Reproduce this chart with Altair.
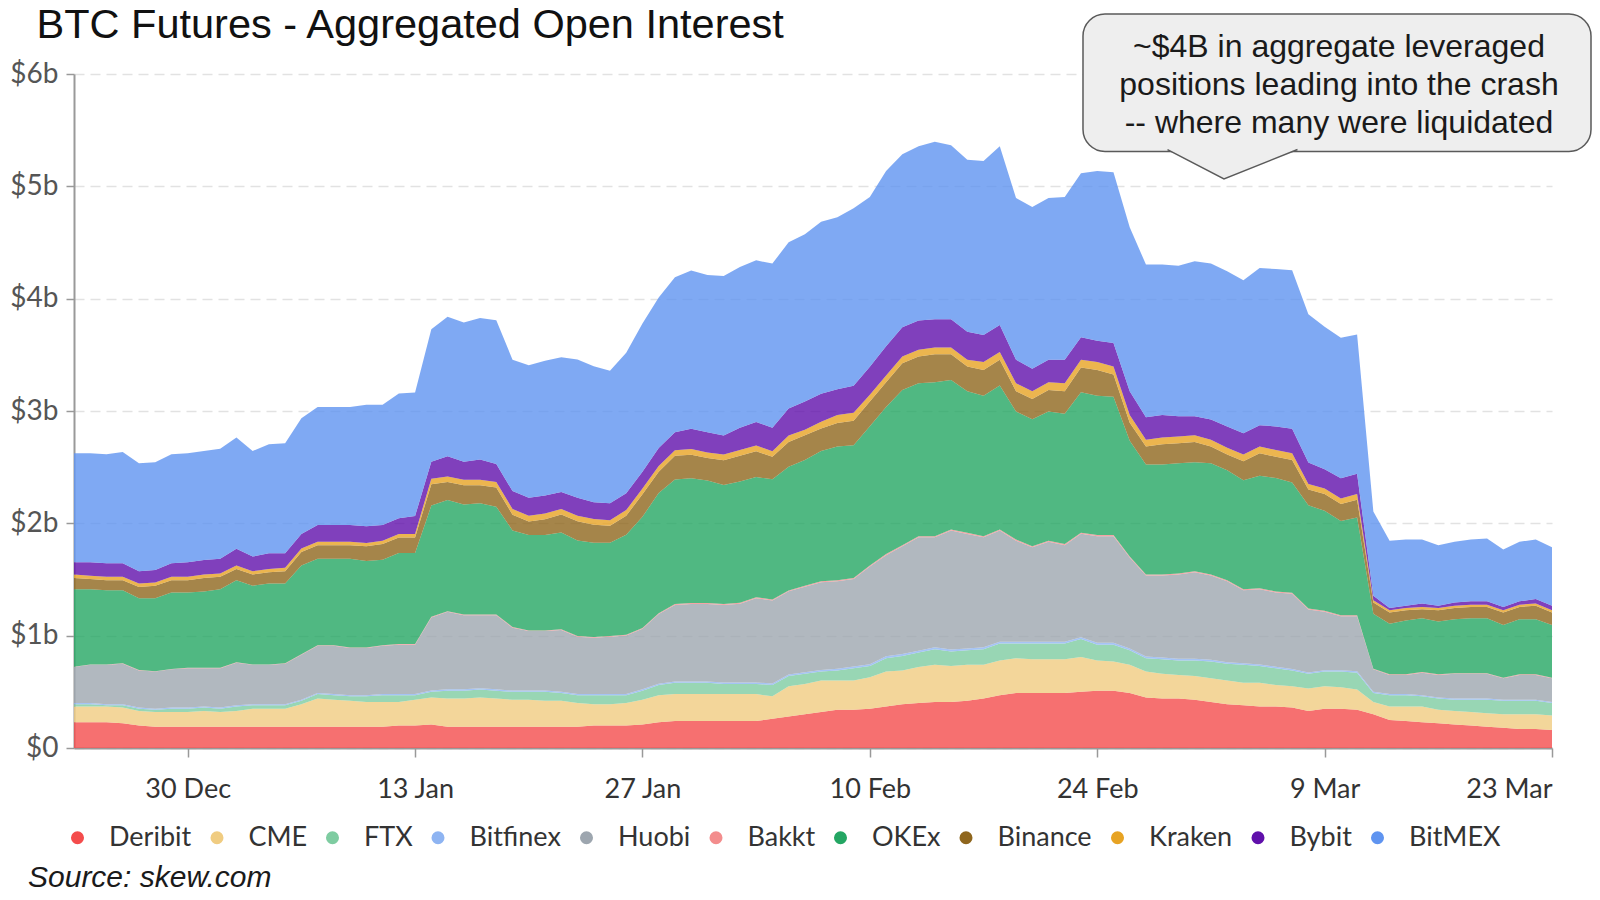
import altair as alt
import pandas as pd

start_date = "2019-12-23"
end_date = "2020-03-23"
dates = pd.date_range(start_date, end_date, freq="D").strftime("%Y-%m-%d").tolist()

exchanges = ["Deribit", "CME", "FTX", "Bitfinex", "Huobi", "Bakkt", "OKEx",
             "Binance", "Kraken", "Bybit", "BitMEX"]
colors = ["#f44c4c", "#f0cc81", "#7ecca1", "#8eb4f2", "#9da6af", "#f38d8d",
          "#24a663", "#8f661d", "#e7a323", "#6010ab", "#5f94f0"]

# open interest, $ billions, one value per day 23 Dec 2019 .. 23 Mar 2020
deribit = [0.23, 0.23, 0.23, 0.22, 0.20, 0.19, 0.19, 0.19, 0.19, 0.19,
           0.19, 0.19, 0.19, 0.19, 0.19, 0.19, 0.19, 0.19, 0.19, 0.19,
           0.20, 0.20, 0.21, 0.19, 0.19, 0.19, 0.19, 0.19, 0.19, 0.19,
           0.19, 0.19, 0.20, 0.20, 0.20, 0.21, 0.23, 0.24, 0.24, 0.24,
           0.24, 0.24, 0.24, 0.26, 0.28, 0.30, 0.32, 0.34, 0.34, 0.35,
           0.37, 0.39, 0.40, 0.41, 0.41, 0.42, 0.44, 0.47, 0.49, 0.49,
           0.49, 0.49, 0.50, 0.51, 0.51, 0.49, 0.45, 0.44, 0.44, 0.43,
           0.41, 0.39, 0.38, 0.37, 0.37, 0.36, 0.33, 0.35, 0.35, 0.34,
           0.30, 0.25, 0.24, 0.23, 0.22, 0.21, 0.20, 0.19, 0.18, 0.17,
           0.17, 0.16]
cme = [0.14, 0.14, 0.14, 0.14, 0.13, 0.13, 0.13, 0.13, 0.14, 0.13,
       0.14, 0.16, 0.16, 0.16, 0.20, 0.25, 0.24, 0.23, 0.22, 0.22,
       0.21, 0.23, 0.24, 0.25, 0.25, 0.26, 0.25, 0.24, 0.24, 0.23,
       0.23, 0.21, 0.19, 0.19, 0.20, 0.22, 0.24, 0.24, 0.24, 0.24,
       0.24, 0.24, 0.24, 0.20, 0.27, 0.27, 0.28, 0.26, 0.26, 0.28,
       0.31, 0.30, 0.32, 0.33, 0.32, 0.32, 0.30, 0.31, 0.31, 0.30,
       0.30, 0.30, 0.31, 0.27, 0.26, 0.25, 0.23, 0.22, 0.21, 0.21,
       0.21, 0.21, 0.20, 0.21, 0.19, 0.19, 0.20, 0.20, 0.19, 0.18,
       0.11, 0.12, 0.13, 0.14, 0.12, 0.12, 0.12, 0.12, 0.12, 0.13,
       0.13, 0.13]
ftx = [0.02, 0.02, 0.01, 0.02, 0.02, 0.02, 0.03, 0.03, 0.03, 0.03,
       0.04, 0.03, 0.03, 0.03, 0.03, 0.04, 0.04, 0.04, 0.05, 0.06,
       0.06, 0.04, 0.05, 0.07, 0.07, 0.07, 0.07, 0.07, 0.07, 0.08,
       0.07, 0.07, 0.08, 0.08, 0.07, 0.08, 0.09, 0.10, 0.10, 0.10,
       0.09, 0.09, 0.09, 0.10, 0.09, 0.09, 0.08, 0.09, 0.11, 0.10,
       0.12, 0.13, 0.13, 0.14, 0.13, 0.13, 0.14, 0.15, 0.13, 0.14,
       0.14, 0.14, 0.16, 0.14, 0.15, 0.13, 0.12, 0.13, 0.13, 0.14,
       0.15, 0.15, 0.16, 0.15, 0.15, 0.14, 0.13, 0.13, 0.14, 0.15,
       0.08, 0.10, 0.10, 0.09, 0.10, 0.10, 0.11, 0.12, 0.12, 0.12,
       0.12, 0.11]
bitfinex = [0.010, 0.010, 0.010, 0.010, 0.010, 0.010, 0.010, 0.010, 0.010, 0.010,
            0.010, 0.010, 0.010, 0.010, 0.010, 0.010, 0.010, 0.010, 0.010, 0.010,
            0.010, 0.010, 0.012, 0.012, 0.012, 0.012, 0.012, 0.011, 0.011, 0.011,
            0.011, 0.011, 0.011, 0.011, 0.011, 0.012, 0.012, 0.013, 0.013, 0.013,
            0.014, 0.014, 0.014, 0.014, 0.015, 0.015, 0.015, 0.015, 0.015, 0.015,
            0.016, 0.016, 0.016, 0.016, 0.016, 0.016, 0.016, 0.016, 0.016, 0.016,
            0.016, 0.016, 0.017, 0.016, 0.016, 0.015, 0.015, 0.015, 0.015, 0.015,
            0.015, 0.014, 0.014, 0.014, 0.014, 0.014, 0.013, 0.013, 0.013, 0.013,
            0.010, 0.010, 0.010, 0.010, 0.010, 0.010, 0.010, 0.010, 0.010, 0.010,
            0.010, 0.010]
huobi = [0.32, 0.34, 0.35, 0.36, 0.33, 0.33, 0.34, 0.35, 0.34, 0.35,
         0.38, 0.35, 0.35, 0.36, 0.40, 0.42, 0.43, 0.42, 0.42, 0.43,
         0.44, 0.44, 0.65, 0.69, 0.66, 0.65, 0.66, 0.56, 0.53, 0.53,
         0.55, 0.51, 0.50, 0.51, 0.52, 0.54, 0.62, 0.68, 0.69, 0.69,
         0.69, 0.70, 0.75, 0.74, 0.74, 0.76, 0.78, 0.78, 0.78, 0.87,
         0.90, 0.96, 1.01, 0.98, 1.06, 1.02, 0.98, 0.99, 0.90, 0.84,
         0.89, 0.86, 0.92, 0.95, 0.95, 0.81, 0.72, 0.73, 0.75, 0.77,
         0.75, 0.72, 0.65, 0.67, 0.66, 0.67, 0.56, 0.52, 0.48, 0.49,
         0.20, 0.17, 0.17, 0.20, 0.20, 0.22, 0.22, 0.22, 0.19, 0.22,
         0.22, 0.21]
bakkt = [0.004, 0.004, 0.004, 0.004, 0.004, 0.004, 0.004, 0.004, 0.004, 0.004,
         0.004, 0.004, 0.004, 0.004, 0.005, 0.005, 0.005, 0.005, 0.005, 0.005,
         0.005, 0.005, 0.006, 0.006, 0.006, 0.006, 0.006, 0.006, 0.006, 0.006,
         0.007, 0.007, 0.007, 0.007, 0.007, 0.007, 0.008, 0.008, 0.008, 0.008,
         0.008, 0.008, 0.008, 0.008, 0.008, 0.009, 0.009, 0.009, 0.009, 0.009,
         0.010, 0.010, 0.010, 0.010, 0.010, 0.010, 0.010, 0.010, 0.010, 0.010,
         0.010, 0.010, 0.010, 0.010, 0.010, 0.010, 0.009, 0.009, 0.009, 0.009,
         0.009, 0.009, 0.009, 0.009, 0.009, 0.009, 0.008, 0.008, 0.008, 0.008,
         0.006, 0.006, 0.006, 0.006, 0.006, 0.006, 0.006, 0.006, 0.006, 0.006,
         0.006, 0.006]
okex = [0.69, 0.67, 0.66, 0.65, 0.64, 0.65, 0.68, 0.67, 0.68, 0.70,
        0.73, 0.70, 0.72, 0.71, 0.79, 0.77, 0.77, 0.79, 0.77, 0.76,
        0.81, 0.81, 0.99, 0.99, 0.98, 0.99, 0.96, 0.86, 0.85, 0.85,
        0.86, 0.85, 0.84, 0.83, 0.89, 0.99, 1.07, 1.11, 1.11, 1.09,
        1.06, 1.08, 1.07, 1.07, 1.10, 1.12, 1.16, 1.19, 1.18, 1.24,
        1.31, 1.38, 1.36, 1.37, 1.33, 1.26, 1.25, 1.28, 1.14, 1.13,
        1.15, 1.16, 1.25, 1.24, 1.23, 1.03, 0.98, 0.98, 0.98, 0.97,
        0.99, 0.98, 0.97, 1.00, 1.01, 0.98, 0.92, 0.89, 0.84, 0.87,
        0.49, 0.45, 0.48, 0.48, 0.47, 0.48, 0.49, 0.49, 0.47, 0.49,
        0.49, 0.47]
binance = [0.10, 0.09, 0.09, 0.09, 0.10, 0.11, 0.11, 0.11, 0.12, 0.11,
           0.10, 0.10, 0.10, 0.11, 0.12, 0.12, 0.12, 0.12, 0.13, 0.14,
           0.14, 0.14, 0.19, 0.16, 0.17, 0.16, 0.17, 0.14, 0.12, 0.14,
           0.16, 0.17, 0.16, 0.15, 0.17, 0.20, 0.19, 0.21, 0.21, 0.20,
           0.22, 0.23, 0.23, 0.20, 0.22, 0.22, 0.20, 0.21, 0.22, 0.22,
           0.22, 0.24, 0.24, 0.25, 0.23, 0.22, 0.23, 0.23, 0.18, 0.18,
           0.19, 0.20, 0.22, 0.23, 0.20, 0.16, 0.16, 0.18, 0.18, 0.18,
           0.15, 0.14, 0.17, 0.20, 0.19, 0.20, 0.14, 0.15, 0.15, 0.16,
           0.10, 0.10, 0.09, 0.08, 0.10, 0.10, 0.10, 0.10, 0.11, 0.11,
           0.12, 0.11]
kraken = [0.03, 0.03, 0.03, 0.03, 0.03, 0.03, 0.03, 0.03, 0.03, 0.03,
          0.03, 0.03, 0.03, 0.03, 0.03, 0.03, 0.03, 0.03, 0.03, 0.03,
          0.03, 0.03, 0.05, 0.05, 0.05, 0.05, 0.05, 0.05, 0.05, 0.05,
          0.05, 0.05, 0.05, 0.05, 0.05, 0.05, 0.05, 0.05, 0.05, 0.05,
          0.05, 0.05, 0.05, 0.05, 0.06, 0.05, 0.06, 0.07, 0.07, 0.06,
          0.06, 0.06, 0.06, 0.06, 0.06, 0.06, 0.07, 0.07, 0.07, 0.07,
          0.07, 0.07, 0.07, 0.07, 0.07, 0.07, 0.06, 0.06, 0.06, 0.06,
          0.06, 0.06, 0.06, 0.06, 0.06, 0.06, 0.05, 0.05, 0.05, 0.05,
          0.02, 0.02, 0.02, 0.02, 0.02, 0.02, 0.02, 0.02, 0.02, 0.02,
          0.02, 0.02]
bybit = [0.11, 0.12, 0.12, 0.12, 0.11, 0.11, 0.12, 0.13, 0.13, 0.13,
         0.15, 0.13, 0.14, 0.13, 0.13, 0.15, 0.15, 0.15, 0.15, 0.14,
         0.14, 0.16, 0.15, 0.18, 0.16, 0.18, 0.16, 0.16, 0.16, 0.16,
         0.15, 0.16, 0.15, 0.15, 0.15, 0.15, 0.16, 0.16, 0.18, 0.18,
         0.17, 0.20, 0.21, 0.21, 0.24, 0.25, 0.25, 0.23, 0.24, 0.25,
         0.26, 0.26, 0.26, 0.25, 0.25, 0.25, 0.24, 0.24, 0.21, 0.20,
         0.20, 0.21, 0.20, 0.19, 0.21, 0.21, 0.20, 0.20, 0.18, 0.17,
         0.18, 0.19, 0.19, 0.19, 0.21, 0.22, 0.19, 0.17, 0.18, 0.18,
         0.04, 0.02, 0.02, 0.03, 0.02, 0.03, 0.03, 0.03, 0.03, 0.03,
         0.04, 0.04]
bitmex = [0.97, 0.97, 0.97, 0.99, 0.96, 0.96, 0.97, 0.97, 0.97, 0.98,
          0.99, 0.94, 0.97, 0.98, 1.03, 1.05, 1.05, 1.05, 1.08, 1.07,
          1.11, 1.10, 1.18, 1.24, 1.24, 1.26, 1.28, 1.17, 1.18, 1.20,
          1.20, 1.23, 1.21, 1.18, 1.25, 1.32, 1.34, 1.38, 1.41, 1.40,
          1.42, 1.43, 1.44, 1.46, 1.48, 1.49, 1.53, 1.53, 1.58, 1.51,
          1.56, 1.54, 1.55, 1.58, 1.55, 1.53, 1.55, 1.59, 1.44, 1.44,
          1.44, 1.45, 1.46, 1.51, 1.52, 1.46, 1.36, 1.34, 1.34, 1.38,
          1.39, 1.38, 1.36, 1.40, 1.40, 1.41, 1.32, 1.27, 1.25, 1.24,
          0.75, 0.60, 0.59, 0.57, 0.54, 0.54, 0.55, 0.56, 0.51, 0.53,
          0.53, 0.52]

series = [deribit, cme, ftx, bitfinex, huobi, bakkt, okex, binance, kraken, bybit, bitmex]

y_ticks = [0, 1, 2, 3, 4, 5, 6]
tick_dates = [(2019, 12, 30), (2020, 1, 13), (2020, 1, 27), (2020, 2, 10),
              (2020, 2, 24), (2020, 3, 9), (2020, 3, 23)]

title_text = "BTC Futures - Aggregated Open Interest"
note_lines = ["~$4B in aggregate leveraged",
              "positions leading into the crash",
              "-- where many were liquidated"]
source_text = "Source: skew.com"

rows = []
for rank, (name, vals) in enumerate(zip(exchanges, series)):
    for d, v in zip(dates, vals):
        rows.append({"date": d, "exchange": name, "value": v, "rank": rank})
df = pd.DataFrame(rows)

tick_values = [alt.DateTime(year=y, month=m, date=d, utc=True) for y, m, d in tick_dates]
x_domain = [alt.DateTime(year=2019, month=12, date=23, utc=True),
            alt.DateTime(year=2020, month=3, date=23, utc=True)]

W, H = 1478, 674

areas = alt.Chart(df).mark_area(opacity=0.8, strokeWidth=0).encode(
    x=alt.X("date:T", title=None,
            scale=alt.Scale(type="utc", domain=x_domain),
            axis=alt.Axis(values=tick_values,
                          labelExpr="utcFormat(datum.value, '%-d %b')",
                          labelFlush=True, labelOverlap=False,
                          labelFont="Lato", labelFontSize=27, labelColor="#333333",
                          labelPadding=19, tickSize=9, tickColor="#999999", tickWidth=1.5,
                          domainColor="#999999", domainWidth=2, grid=False)),
    y=alt.Y("value:Q", stack="zero", title=None,
            scale=alt.Scale(domain=[0, 6], nice=False),
            axis=alt.Axis(values=y_ticks,
                          labelExpr="datum.value == 0 ? '$0' : '$' + datum.value + 'b'",
                          labelFont="Lato", labelFontSize=28, labelColor="#555555",
                          labelPadding=8, tickSize=8, tickColor="#999999", tickWidth=1.5,
                          domainColor="#999999", domainWidth=2,
                          grid=True, gridColor="#e2e2e2", gridDash=[10, 6], gridWidth=1.5)),
    color=alt.Color("exchange:N", title=None,
                    scale=alt.Scale(domain=exchanges, range=colors),
                    legend=alt.Legend(orient="none", legendX=-10, legendY=750,
                                      direction="horizontal", symbolType="circle",
                                      symbolSize=170, symbolOpacity=1, symbolStrokeWidth=0,
                                      labelFont="Lato", labelFontSize=27, labelColor="#333333",
                                      labelOffset=18, columnPadding=11.5, padding=0)),
    order=alt.Order("rank:Q", sort="ascending"),
)

one = pd.DataFrame({"k": [0]})

box = alt.Chart(one).mark_rect(cornerRadius=22, fill="#eeeeee", stroke="#5a5a5a",
                               strokeWidth=1.5).encode(
    x=alt.value(1009), x2=alt.value(1517), y=alt.value(-60), y2=alt.value(77.5))

pointer = alt.Chart(one).mark_point(
    shape="M -1 -0.03 L -0.131 0.423 L 1 -0.03", size=16900, filled=True,
    fill="#eeeeee", fillOpacity=1, opacity=1, stroke="#5a5a5a", strokeWidth=1.5).encode(
    x=alt.value(1158.5), y=alt.value(77.5))

note = alt.Chart(one).mark_text(text=note_lines, align="center", baseline="middle",
                                lineHeight=38, font="Liberation Sans", fontSize=32,
                                color="#1a1a1a").encode(
    x=alt.value(1265), y=alt.value(-27))

title = alt.Chart(one).mark_text(text=title_text, align="left", baseline="alphabetic",
                                 font="Liberation Sans", fontSize=41.5, color="#111111").encode(
    x=alt.value(-37.5), y=alt.value(-36.5))

source = alt.Chart(one).mark_text(text=source_text, align="left", baseline="alphabetic",
                                  font="Liberation Sans", fontSize=30, fontStyle="italic",
                                  color="#1a1a1a").encode(
    x=alt.value(-46), y=alt.value(813))

chart = alt.layer(areas, box, pointer, note, title, source).properties(
    width=W, height=H,
    autosize=alt.AutoSizeParams(type="none"),
    padding={"left": 66, "top": 66, "right": 40, "bottom": 144},
    background="white",
).configure_view(strokeWidth=0)

chart.save("out.html", embed_options={"renderer": "svg", "actions": False})
